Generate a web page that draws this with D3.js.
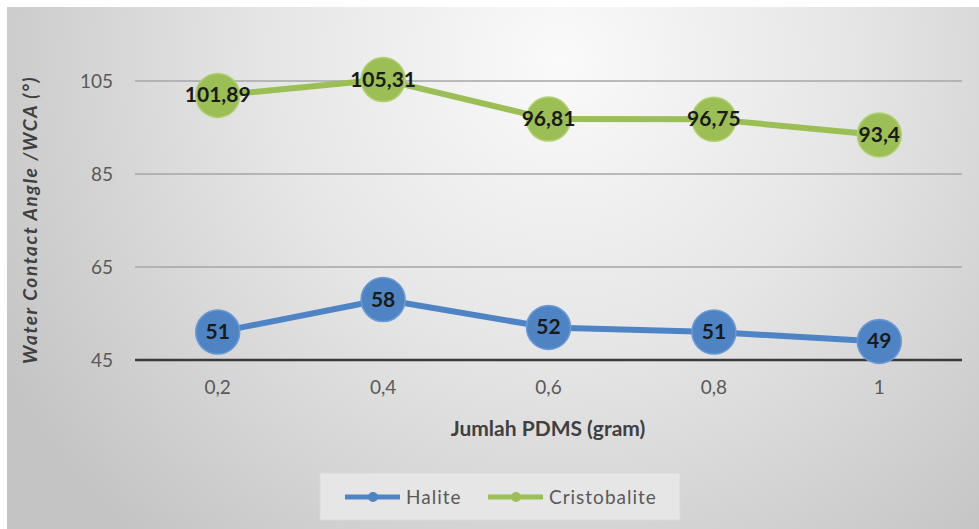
<!DOCTYPE html>
<html>
<head>
<meta charset="utf-8">
<script src="https://cdn.jsdelivr.net/npm/d3@7"></script>
<style>
  body { margin: 0; background: #fff; }
  svg { display: block; }
  text { font-family: Lato, "Open Sans", sans-serif; }
</style>
</head>
<body>
<div id="chart"></div>
<script>
const categories = ['0,2', '0,4', '0,6', '0,8', '1'];
const halite = [51, 58, 52, 51, 49];
const cristobalite = [101.89, 105.31, 96.81, 96.75, 93.4];
const yTicks = [45, 65, 85, 105];

const series = [
  { name: 'Halite', values: halite, color: '#4f84c4', stroke: '#6a9ad4' },
  { name: 'Cristobalite', values: cristobalite, color: '#9bbf55', stroke: '#b0d070' }
];

const W = 979, H = 529;
const margin = { top: 81, right: 17, bottom: 169, left: 135 };
const fmt = v => String(v).replace('.', ',');

const svg = d3.select('#chart').append('svg')
  .attr('width', W)
  .attr('height', H);

const defs = svg.append('defs');
const grad = defs.append('radialGradient')
  .attr('id', 'bg')
  .attr('gradientUnits', 'userSpaceOnUse')
  .attr('cx', 560).attr('cy', 60).attr('r', 640);
grad.append('stop').attr('offset', '0%').attr('stop-color', '#fafafa');
grad.append('stop').attr('offset', '45%').attr('stop-color', '#e6e6e6');
grad.append('stop').attr('offset', '100%').attr('stop-color', '#c4c4c4');

svg.append('rect')
  .attr('x', 7).attr('y', 7)
  .attr('width', W - 7).attr('height', H - 7)
  .attr('fill', 'url(#bg)');

const innerW = W - margin.left - margin.right;
const x = d3.scaleBand().domain(categories).range([margin.left, margin.left + innerW]);
const y = d3.scaleLinear().domain([45, 105]).range([H - margin.bottom, margin.top]);
const cx = d => x(d) + x.bandwidth() / 2;

// gridlines
svg.append('g').selectAll('line')
  .data(yTicks.filter(t => t > 45))
  .join('line')
  .attr('x1', margin.left).attr('x2', margin.left + innerW)
  .attr('y1', d => y(d)).attr('y2', d => y(d))
  .attr('stroke', '#a6a6a6').attr('stroke-width', 1.5);

// y tick labels
svg.append('g').selectAll('text')
  .data(yTicks)
  .join('text')
  .attr('x', 113).attr('y', d => y(d) + 7)
  .attr('text-anchor', 'end')
  .attr('font-size', 19)
  .attr('fill', '#595959')
  .text(d => d);

// x axis line
svg.append('line')
  .attr('x1', margin.left).attr('x2', margin.left + innerW)
  .attr('y1', y(45)).attr('y2', y(45))
  .attr('stroke', '#3a3a3a').attr('stroke-width', 2.5);

// x tick labels
svg.append('g').selectAll('text')
  .data(categories)
  .join('text')
  .attr('x', d => cx(d)).attr('y', 394)
  .attr('text-anchor', 'middle')
  .attr('font-size', 19)
  .attr('fill', '#595959')
  .text(d => d);

// axis titles
svg.append('text')
  .attr('x', 548).attr('y', 436)
  .attr('text-anchor', 'middle')
  .attr('font-size', 21)
  .attr('font-weight', 'bold')
  .attr('fill', '#404040')
  .text('Jumlah PDMS (gram)');

svg.append('text')
  .attr('transform', 'translate(37,220) rotate(-90)')
  .attr('text-anchor', 'middle')
  .attr('font-size', 19)
  .attr('font-style', 'italic')
  .attr('font-weight', 'bold')
  .attr('letter-spacing', 1.6)
  .attr('fill', '#404040')
  .text('Water Contact Angle /WCA (°)');

const line = d3.line()
  .x((d, i) => cx(categories[i]))
  .y(d => y(d));

series.forEach(s => {
  const g = svg.append('g');
  g.append('path')
    .datum(s.values)
    .attr('d', line)
    .attr('fill', 'none')
    .attr('stroke', s.color)
    .attr('stroke-width', 6)
    .attr('stroke-linejoin', 'round');
  g.selectAll('circle')
    .data(s.values)
    .join('circle')
    .attr('cx', (d, i) => cx(categories[i]))
    .attr('cy', d => y(d))
    .attr('r', 22)
    .attr('fill', s.color)
    .attr('stroke', s.stroke)
    .attr('stroke-width', 1.5);
  g.selectAll('text')
    .data(s.values)
    .join('text')
    .attr('x', (d, i) => cx(categories[i]))
    .attr('y', d => y(d) + 7)
    .attr('text-anchor', 'middle')
    .attr('font-size', 21)
    .attr('font-weight', 'bold')
    .attr('fill', '#1a1a1a')
    .text(d => fmt(d));
});

// legend
const legend = svg.append('g');
legend.append('rect')
  .attr('x', 320).attr('y', 473)
  .attr('width', 360).attr('height', 47)
  .attr('fill', '#e6e6e6')
  .attr('stroke', '#dadada');

const legendItems = [
  { s: series[0], x: 345 },
  { s: series[1], x: 488 }
];
legendItems.forEach(({ s, x: lx }) => {
  legend.append('line')
    .attr('x1', lx).attr('x2', lx + 55)
    .attr('y1', 497).attr('y2', 497)
    .attr('stroke', s.color).attr('stroke-width', 5);
  legend.append('circle')
    .attr('cx', lx + 28).attr('cy', 497).attr('r', 5)
    .attr('fill', s.color);
  legend.append('text')
    .attr('x', lx + 61).attr('y', 504)
    .attr('font-size', 19)
    .attr('letter-spacing', 1)
    .attr('fill', '#595959')
    .text(s.name);
});
</script>
</body>
</html>
